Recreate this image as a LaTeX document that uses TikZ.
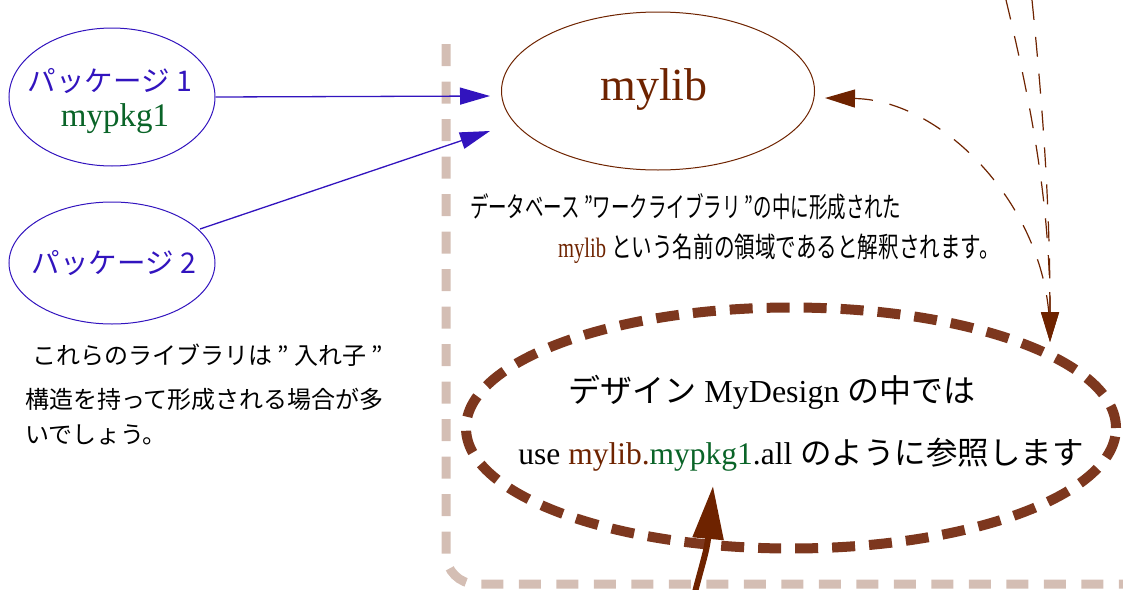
\documentclass[tikz,border=0pt]{standalone}
\usepackage{fontspec}
\setmainfont{Liberation Serif}
\newfontfamily\jp{Noto Sans CJK JP}
\usetikzlibrary{arrows.meta,shapes.geometric}
\definecolor{pblue}{RGB}{50,20,190}
\definecolor{pgreen}{RGB}{10,100,40}
\definecolor{lbrown}{RGB}{110,35,0}
\definecolor{dbrown}{RGB}{125,55,30}
\definecolor{ltan}{RGB}{212,190,180}
\tikzset{
  pkgell/.style={ellipse, draw=pblue, line width=1pt, minimum width=206pt, minimum height=138pt, inner sep=0pt},
  pkgelltwo/.style={pkgell, minimum height=122pt},
  libell/.style={ellipse, draw=lbrown, line width=1pt, minimum width=313pt, minimum height=158pt, inner sep=0pt},
  designell/.style={ellipse, draw=dbrown, line width=10pt, dash pattern=on 23pt off 14pt, minimum width=650pt, minimum height=241pt, inner sep=0pt},
  txt/.style={inner sep=0pt, outer sep=0pt},
  bluearrow/.style={draw=pblue, line width=1.3pt, -{Triangle[length=30pt,width=17pt]}},
  thindash/.style={draw=lbrown, line width=1.2pt, dash pattern=on 20pt off 17pt},
  thinarrow/.style={thindash, -{Triangle[length=30pt,width=18pt]}},
  bigarrow/.style={draw=lbrown, line width=6pt, -{Triangle[length=53pt,width=30pt]}},
  clusterline/.style={draw=ltan, line width=9pt, dash pattern=on 22pt off 15.5pt, rounded corners=30pt}
}
\begin{document}
\begin{tikzpicture}[x=1pt,y=-1pt]
\useasboundingbox (0,0) rectangle (1123,589);
% cluster boundary
\draw[clusterline] (446,44) -- (446,584) -- (1135,584);
% nodes
\node[pkgell] (pkg1) at (112,97) {};
\node[txt, anchor=base, text=pblue, font=\jp\fontsize{28.5}{32}\selectfont] (pkg1a) at (110,91) {パッケージ 1};
\node[txt, anchor=base, text=pgreen, font=\fontsize{33}{36}\selectfont] (pkg1b) at (115,126) {mypkg1};
\node[pkgelltwo] (pkg2) at (112,263) {};
\node[txt, anchor=base, text=pblue, font=\jp\fontsize{28.5}{32}\selectfont] (pkg2a) at (114,273) {パッケージ 2};
\node[libell] (mylib) at (658,91) {};
\node[txt, anchor=base, text=lbrown, font=\fontsize{46}{50}\selectfont] (mylibt) at (654,100) {mylib};
\node[designell] (design) at (791,428) {};
\node[txt, anchor=base, font=\fontsize{32}{36}\selectfont] (designa) at (772,402) {{\jp\fontsize{32}{36}\selectfont デザイン} MyDesign {\jp\fontsize{32}{36}\selectfont の中では}};
\node[txt, anchor=base, font=\fontsize{31.5}{36}\selectfont] (designb) at (801,464) {use \textcolor{lbrown}{mylib.}\textcolor{pgreen}{mypkg1}.all {\jp のように参照します}};
% description text
\node[txt, anchor=base west, font=\fontsize{28}{30}\selectfont] (desc1) at (470,217) {\scalebox{0.66}[1]{\jp データベース ”ワークライブラリ ”の中に形成された}};
\node[txt, anchor=base west, font=\fontsize{28}{30}\selectfont] (desc2) at (558,257) {\scalebox{0.735}[1]{\textcolor{lbrown}{mylib} {\jp という名前の領域であると解釈されます。}}};
\node[txt, anchor=base west, font=\jp\fontsize{24}{30}\selectfont] (note1) at (32,364) {これらのライブラリは ” 入れ子 ”};
\node[txt, anchor=base west, font=\jp\fontsize{24}{30}\selectfont] (note2) at (25,408) {構造を持って形成される場合が多};
\node[txt, anchor=base west, font=\jp\fontsize{24}{30}\selectfont] (note3) at (25,443) {いでしょう。};
% coordinates
\coordinate (tip1) at (490,96);
\coordinate (tip2) at (490,131);
\coordinate (p2start) at (200,229);
\coordinate (libtip) at (825,98);
\coordinate (curvestart) at (1049,315);
\coordinate (toptip) at (1050,342);
\coordinate (topA) at (1006,0);
\coordinate (topB) at (1032,0);
\coordinate (bigstart) at (695,592);
\coordinate (bigtip) at (713,486);
% connectors
\draw[bluearrow] (pkg1.east) -- (tip1);
\draw[bluearrow] (p2start) -- (tip2);
\draw[thinarrow] (curvestart) .. controls (1040,200) and (940,100) .. (libtip);
\draw[thinarrow] (topA) .. controls (1030,100) and (1050,200) .. (toptip);
\draw[thinarrow] (topB) .. controls (1042,100) and (1050,200) .. (toptip);
\draw[bigarrow] (bigstart) .. controls (702,565) and (707,550) .. (bigtip);
\end{tikzpicture}
\end{document}
